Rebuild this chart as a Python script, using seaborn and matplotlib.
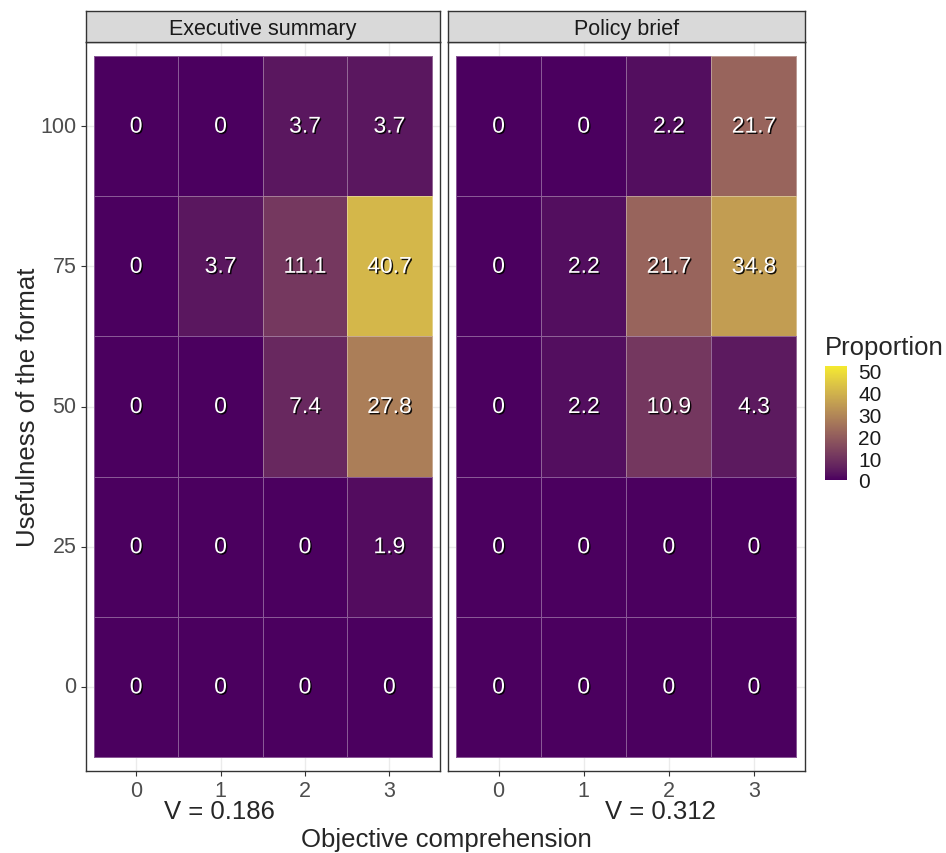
# Usefulness of the format vs objective comprehension, by format (heatmap facets)

import numpy as np
import pandas as pd
import seaborn as sns
import matplotlib.pyplot as plt
import matplotlib.patheffects as pe
from matplotlib.colors import ListedColormap, Normalize
from matplotlib.cm import ScalarMappable

# data
formats = ["Executive summary", "Policy brief"]
comprehension = [0, 1, 2, 3]
usefulness = [100, 75, 50, 25, 0]  # top to bottom
exec_summary = [
    [0, 0, 3.7, 3.7],
    [0, 3.7, 11.1, 40.7],
    [0, 0, 7.4, 27.8],
    [0, 0, 0, 1.9],
    [0, 0, 0, 0],
]
policy_brief = [
    [0, 0, 2.2, 21.7],
    [0, 2.2, 21.7, 34.8],
    [0, 2.2, 10.9, 4.3],
    [0, 0, 0, 0],
    [0, 0, 0, 0],
]
v_labels = ["V = 0.186", "V = 0.312"]
fill_max = 52


# ggplot-like gradient (interpolated in Lab space)
def srgb_to_lab(rgb):
    c = np.asarray(rgb, dtype=float)
    c = np.where(c <= 0.04045, c / 12.92, ((c + 0.055) / 1.055) ** 2.4)
    m = np.array([[0.4124, 0.3576, 0.1805],
                  [0.2126, 0.7152, 0.0722],
                  [0.0193, 0.1192, 0.9505]])
    xyz = m @ c / np.array([0.95047, 1.0, 1.08883])
    f = np.where(xyz > 0.008856, np.cbrt(xyz), 7.787 * xyz + 16 / 116)
    return np.array([116 * f[1] - 16, 500 * (f[0] - f[1]), 200 * (f[1] - f[2])])


def lab_to_srgb(lab):
    fy = (lab[0] + 16) / 116
    fx = fy + lab[1] / 500
    fz = fy - lab[2] / 200
    f = np.array([fx, fy, fz])
    xyz = np.where(f ** 3 > 0.008856, f ** 3, (f - 16 / 116) / 7.787)
    xyz = xyz * np.array([0.95047, 1.0, 1.08883])
    minv = np.array([[3.2406, -1.5372, -0.4986],
                     [-0.9689, 1.8758, 0.0415],
                     [0.0557, -0.2040, 1.0570]])
    c = minv @ xyz
    c = np.where(c <= 0.0031308, 12.92 * c, 1.055 * np.clip(c, 0, None) ** (1 / 2.4) - 0.055)
    return np.clip(c, 0, 1)


low = srgb_to_lab(np.array([0x4B, 0x00, 0x5F]) / 255)
high = srgb_to_lab(np.array([0xF5, 0xEA, 0x2E]) / 255)
cmap = ListedColormap([lab_to_srgb(low + t * (high - low)) for t in np.linspace(0, 1, 256)])
norm = Normalize(0, fill_max)

sns.set_theme(style="white")
plt.rcParams['font.family'] = ['Liberation Sans', 'DejaVu Sans']

W, H = 946, 854
fig = plt.figure(figsize=(W / 100, H / 100), dpi=100)


def fx(px):
    return px / W


def fy(py):
    return 1 - py / H


panels = [(85.5, 440), (447.5, 805)]
top, bottom = 43, 772
strip_top = 12

for i, (name, vals) in enumerate(zip(formats, [exec_summary, policy_brief])):
    x0, x1 = panels[i]
    ax = fig.add_axes([fx(x0), fy(bottom), fx(x1 - x0), (bottom - top) / H])
    df = pd.DataFrame(vals, index=usefulness, columns=comprehension)
    labels = df.map(lambda v: "0" if v == 0 else f"{v:.1f}")
    sns.heatmap(df, ax=ax, cmap=cmap, vmin=0, vmax=fill_max, cbar=False,
                annot=labels, fmt="", linewidths=0.5, linecolor=(1, 1, 1, 0.35),
                annot_kws=dict(color="white", fontsize=16.5,
                               path_effects=[pe.withSimplePatchShadow(offset=(1, -1), shadow_rgbFace="black", alpha=0.9)]))
    ax.set_xlim(-0.1, 4.1)
    ax.set_ylim(5.1, -0.1)
    ax.set_axisbelow(True)
    ax.grid(True, color="#EBEBEB", lw=1)
    ax.set_facecolor("white")
    for s in ax.spines.values():
        s.set_visible(True)
        s.set_color("#333333")
        s.set_linewidth(1)
    ax.set_xlabel("")
    ax.set_ylabel("")
    ax.set_xticks(np.arange(4) + 0.5)
    ax.set_xticklabels(comprehension)
    ax.tick_params(axis="both", length=3.5, width=0.8, color="#333333",
                   labelcolor="#4D4D4D", labelsize=15.5, bottom=True, left=True, pad=3)
    ax.set_yticks(np.arange(5) + 0.5)
    if i == 0:
        ax.set_yticklabels(usefulness, rotation=0)
    else:
        ax.set_yticklabels([])
        ax.tick_params(axis="y", left=False)

    # facet strip
    sax = fig.add_axes([fx(x0), fy(top), fx(x1 - x0), (top - strip_top) / H])
    sax.set_facecolor("#D9D9D9")
    sax.set_xticks([])
    sax.set_yticks([])
    for s in sax.spines.values():
        s.set_color("#333333")
        s.set_linewidth(1)
    sax.text(0.5, 0.45, name, ha="center", va="center", fontsize=15.5, color="#1A1A1A",
             transform=sax.transAxes)

fig.text(fx(219), fy(812), v_labels[0], ha="center", va="center", fontsize=18.5)
fig.text(fx(660), fy(812), v_labels[1], ha="center", va="center", fontsize=18.5)
fig.text(fx(446), fy(840), "Objective comprehension", ha="center", va="center", fontsize=18.5)
fig.text(fx(28), fy(407), "Usefulness of the format", ha="center", va="center",
         rotation=90, fontsize=18.5)

# legend
cax = fig.add_axes([fx(825), fy(481), fx(22), (481 - 367) / H])
cb = fig.colorbar(ScalarMappable(norm=norm, cmap=cmap), cax=cax, ticks=[0, 10, 20, 30, 40, 50])
cb.outline.set_visible(False)
cax.tick_params(axis="y", direction="in", length=4, color="white", width=0.6,
                labelsize=15, labelcolor="#1A1A1A", pad=8)
fig.text(fx(825), fy(348), "Proportion", ha="left", va="center", fontsize=18.5)

plt.savefig("out.png", dpi=100)
